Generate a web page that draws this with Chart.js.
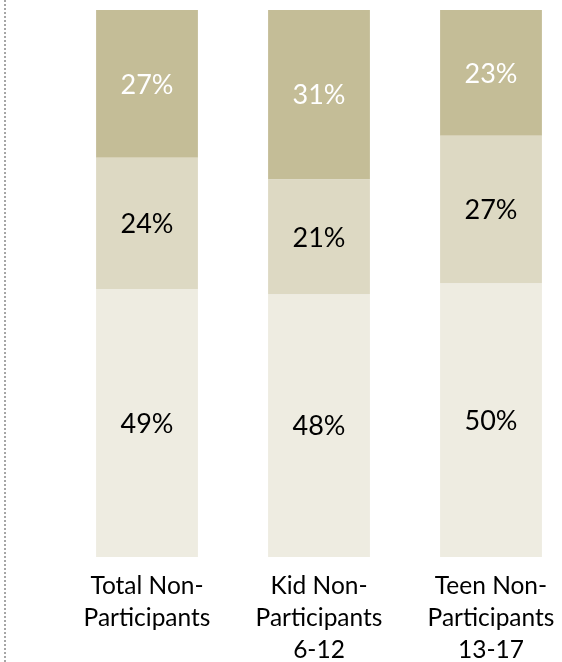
<!DOCTYPE html>
<html>
<head>
<meta charset="utf-8">
<script src="https://cdn.jsdelivr.net/npm/chart.js@4/dist/chart.umd.min.js"></script>
<style>
  html, body { margin: 0; padding: 0; background: #fff; overflow: hidden; width: 562px; height: 662px; }
  #wrap { position: relative; width: 580px; height: 662px; }
  #border { position: absolute; left: 4px; top: 0; width: 2px; height: 662px;
    background: repeating-linear-gradient(to bottom, #a6a6a6 0 2px, transparent 2px 4px); }
  canvas { position: absolute; left: 0; top: 0; }
</style>
</head>
<body>
<div id="wrap">
  <div id="border"></div>
  <canvas id="c" width="580" height="662"></canvas>
</div>
<script>
const categories = [
  ["Total Non-", "Participants"],
  ["Kid Non-", "Participants", "6-12"],
  ["Teen Non-", "Participants", "13-17"]
];
const bottomValues = [49, 48, 50];
const middleValues = [24, 21, 27];
const topValues = [27, 31, 23];

const FONT = "Lato, 'Open Sans', sans-serif";

const labelPlugin = {
  id: 'segLabels',
  afterDatasetsDraw(chart) {
    const ctx = chart.ctx;
    ctx.save();
    ctx.font = "27px " + FONT;
    ctx.textAlign = 'center';
    ctx.textBaseline = 'middle';
    chart.data.datasets.forEach((ds, di) => {
      const meta = chart.getDatasetMeta(di);
      meta.data.forEach((bar, i) => {
        const v = ds.data[i];
        const cy = (bar.y + bar.base) / 2;
        ctx.fillStyle = ds.labelColor;
        ctx.fillText(v + '%', bar.x, cy + 1);
      });
    });
    ctx.restore();
  }
};

new Chart(document.getElementById('c'), {
  type: 'bar',
  data: {
    labels: categories,
    datasets: [
      { data: bottomValues, backgroundColor: '#EEECE1', labelColor: '#000000' },
      { data: middleValues, backgroundColor: '#DDD9C3', labelColor: '#000000' },
      { data: topValues, backgroundColor: '#C4BD97', labelColor: '#FFFFFF' }
    ]
  },
  options: {
    responsive: false,
    animation: false,
    events: [],
    layout: { padding: { left: 61, right: 3, top: 10, bottom: 0 } },
    datasets: { bar: { categoryPercentage: 1, barPercentage: 0.592, borderWidth: 0 } },
    plugins: { legend: { display: false }, tooltip: { enabled: false } },
    scales: {
      x: {
        stacked: true,
        grid: { display: false, drawTicks: false },
        border: { display: false },
        ticks: { color: '#000', font: { family: FONT, size: 24.5, lineHeight: 1.3 }, padding: 13, maxRotation: 0, autoSkip: false },
        afterFit(axis) { axis.height = 105; }
      },
      y: {
        stacked: true, display: false, min: 0, max: 100
      }
    }
  },
  plugins: [labelPlugin]
});
</script>
</body>
</html>
